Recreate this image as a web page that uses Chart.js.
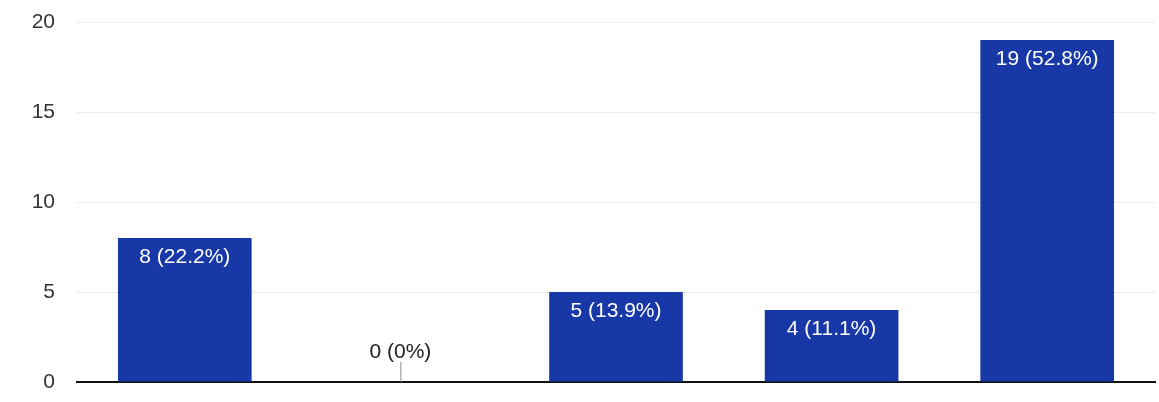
<!DOCTYPE html>
<html>
<head>
<meta charset="utf-8">
<script src="https://cdn.jsdelivr.net/npm/chart.js@4.4.1/dist/chart.umd.min.js"></script>
<style>
  html, body { margin: 0; padding: 0; background: #fff; }
  #wrap { width: 1159px; height: 402px; }
</style>
</head>
<body>
<div id="wrap"><canvas id="chart"></canvas></div>
<script>
const categories = ['1', '2', '3', '4', '5'];
const counts = [8, 0, 5, 4, 19];
const barLabels = ['8 (22.2%)', '0 (0%)', '5 (13.9%)', '4 (11.1%)', '19 (52.8%)'];
const yTicks = [0, 5, 10, 15, 20];

// draws "n (p%)" labels: white inside the bar, dark above a zero bar
const barLabelPlugin = {
  id: 'barLabels',
  afterDatasetsDraw(chart) {
    const ctx = chart.ctx;
    const meta = chart.getDatasetMeta(0);
    const yScale = chart.scales.y;
    ctx.save();
    ctx.font = '21px "Liberation Sans", Arial, sans-serif';
    ctx.textAlign = 'center';
    ctx.textBaseline = 'middle';
    meta.data.forEach((bar, i) => {
      if (counts[i] > 0) {
        ctx.fillStyle = '#ffffff';
        ctx.fillText(barLabels[i], bar.x, bar.y + 19);
      } else {
        const base = yScale.getPixelForValue(0);
        ctx.strokeStyle = '#8a8a8a';
        ctx.lineWidth = 1;
        ctx.beginPath();
        ctx.moveTo(bar.x + 0.5, base);
        ctx.lineTo(bar.x + 0.5, base - 20);
        ctx.stroke();
        ctx.fillStyle = '#222222';
        ctx.fillText(barLabels[i], bar.x, base - 30);
      }
    });
    ctx.restore();
  }
};

new Chart(document.getElementById('chart'), {
  type: 'bar',
  data: {
    labels: categories,
    datasets: [{
      data: counts,
      backgroundColor: '#1838a8',
      borderWidth: 0,
      categoryPercentage: 1,
      barPercentage: 0.62
    }]
  },
  options: {
    responsive: true,
    maintainAspectRatio: false,
    animation: false,
    layout: { padding: { top: 22, right: 4, bottom: 20, left: 0 } },
    plugins: {
      legend: { display: false },
      tooltip: { enabled: false }
    },
    scales: {
      x: {
        afterFit: (scale) => { scale.height = 0; },
        ticks: { display: false },
        grid: { display: false, drawTicks: false },
        border: { display: true, color: '#111111', width: 2 }
      },
      y: {
        min: 0,
        max: 20,
        afterFit: (scale) => {
          scale.width = 77;
          scale.paddingTop = 0;
          scale.paddingBottom = 0;
        },
        afterBuildTicks: (scale) => { scale.ticks = yTicks.map(v => ({ value: v })); },
        ticks: {
          padding: 22,
          color: '#333333',
          font: { family: '"Liberation Sans", Arial, sans-serif', size: 21 }
        },
        grid: { color: '#ececec', drawTicks: false },
        border: { display: false }
      }
    }
  },
  plugins: [barLabelPlugin]
});
</script>
</body>
</html>
